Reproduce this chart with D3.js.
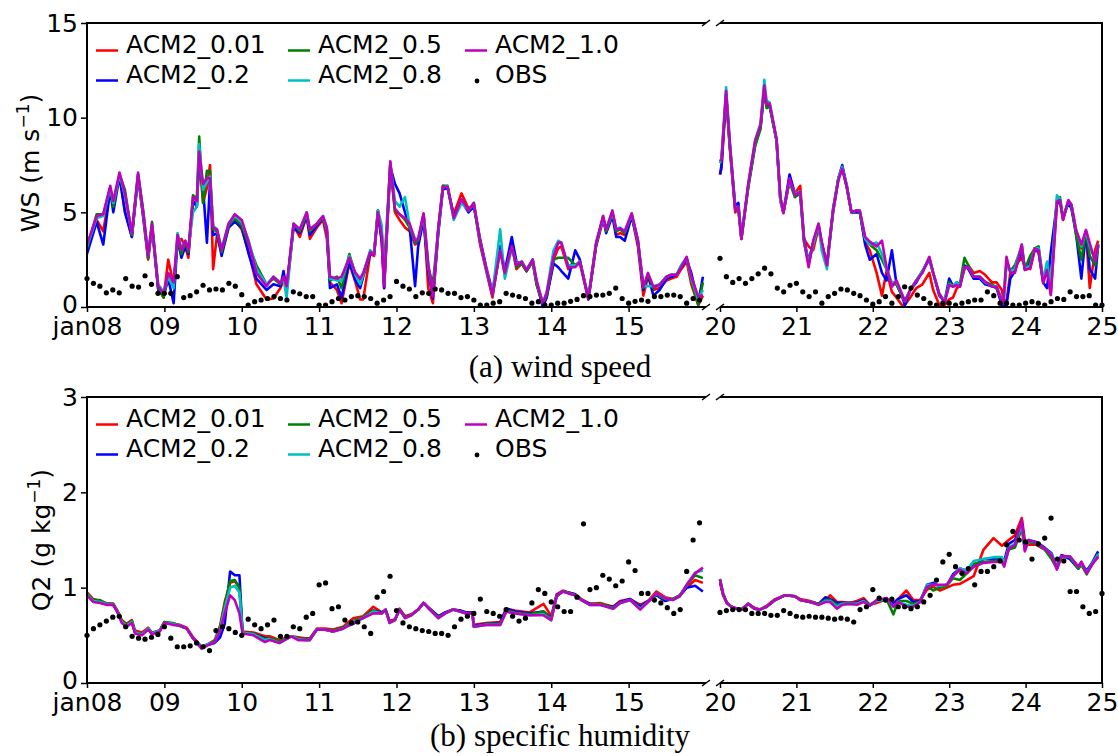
<!DOCTYPE html>
<html>
<head>
<meta charset="utf-8">
<script src="https://cdn.jsdelivr.net/npm/d3@7"></script>
<style>
  body { margin: 0; background: #fff; }
  svg { display: block; }
</style>
</head>
<body>
<div id="chart"></div>
<script>
// ---------- data ----------
const modelNames = ["ACM2_0.01", "ACM2_0.2", "ACM2_0.5", "ACM2_0.8", "ACM2_1.0"];
const modelColors = ["#ff0000", "#0000ff", "#008000", "#00bfbf", "#bf00bf"];

const leftTicks = [8, 9, 10, 11, 12, 13, 14, 15];
const leftTickLabels = ["jan08", "09", "10", "11", "12", "13", "14", "15"];
const rightTicks = [20, 21, 22, 23, 24, 25];
const rightTickLabels = ["20", "21", "22", "23", "24", "25"];

// (a) wind speed, jan 08-15 (day of month)
const wsTimeA = [8.00,8.125,8.21,8.30,8.34,8.42,8.49,8.58,8.66,8.73,
  8.79,8.84,8.92,8.99,9.05,9.12,9.17,9.22,9.27,9.31,
  9.37,9.42,9.45,9.50,9.55,9.59,9.63,9.68,9.74,9.83,
  9.91,10.00,10.09,10.19,10.32,10.41,10.50,10.54,10.58,10.67,
  10.75,10.84,10.88,10.97,11.05,11.10,11.14,11.23,11.29,11.39,
  11.47,11.53,11.57,11.66,11.71,11.76,11.81,11.84,11.92,11.98,
  12.04,12.11,12.17,12.24,12.28,12.35,12.41,12.47,12.54,12.60,
  12.66,12.74,12.84,12.93,13.00,13.08,13.16,13.24,13.34,13.40,
  13.49,13.55,13.62,13.68,13.76,13.81,13.89,13.94,14.03,14.09,
  14.13,14.22,14.31,14.37,14.48,14.58,14.67,14.71,14.79,14.84,
  14.89,14.95,15.04,15.12,15.19,15.25,15.32,15.40,15.49,15.55,
  15.62,15.68,15.75,15.81,15.90,15.96];
const wsA001 = [3.0,4.6,4.0,6.2,5.4,6.9,5.1,3.7,6.9,4.6,
  2.5,4.2,1.0,0.5,2.5,1.2,3.5,3.6,3.2,2.6,
  5.6,5.4,7.9,5.5,6.3,7.5,2.0,3.8,2.9,4.2,
  4.6,4.1,2.9,1.2,0.4,0.45,1.0,1.4,1.0,4.3,
  3.7,4.8,3.6,4.2,4.6,3.6,1.3,0.9,0.2,2.3,
  1.3,0.4,0.4,2.8,2.7,5.1,3.4,1.0,7.5,5.0,
  4.6,4.2,4.0,3.3,3.4,4.9,1.0,0.2,4.0,6.4,
  6.3,4.9,6.0,5.2,5.4,3.3,1.9,0.5,3.2,1.8,
  3.3,2.0,2.3,1.9,2.4,1.2,0.1,0.5,2.5,3.1,
  3.2,2.0,2.2,2.3,0.4,3.2,4.6,4.0,5.0,3.8,
  3.9,3.8,4.8,3.2,0.6,1.6,0.9,1.0,1.4,1.5,
  1.6,2.0,2.4,1.2,0.1,0.6];
const wsA02 = [2.8,4.5,3.3,6.2,5.0,6.9,5.0,3.7,6.9,4.7,
  2.6,4.3,0.9,0.6,1.5,0.2,3.6,2.6,3.2,2.8,
  5.6,5.3,7.8,6.3,3.4,6.6,3.8,3.9,2.7,4.2,
  4.5,4.2,2.8,1.5,0.9,1.2,1.1,1.9,0.9,4.2,
  3.9,4.8,3.8,4.3,4.7,4.0,1.0,1.2,0.5,2.4,
  1.4,1.0,1.6,2.8,2.8,4.9,3.5,1.0,7.4,6.5,
  6.0,5.0,4.2,1.1,3.2,4.6,1.9,0.45,3.9,6.2,
  6.3,4.8,5.6,5.0,5.3,3.6,2.1,0.8,3.2,1.9,
  3.7,2.4,2.3,1.9,2.5,1.3,0.0,0.5,2.3,2.1,
  1.9,1.5,3.0,2.5,0.4,3.3,4.7,3.9,4.8,3.7,
  3.7,3.5,4.8,3.4,0.9,1.7,0.6,0.9,1.5,1.6,
  1.7,2.1,2.5,1.8,0.2,1.6];
const wsA05 = [3.1,4.9,4.9,6.3,5.3,7.0,6.2,3.8,7.0,5.0,
  2.6,4.5,1.0,0.5,1.6,1.2,3.6,2.8,3.4,2.9,
  5.9,5.7,9.0,5.5,7.2,7.2,4.1,4.0,2.9,4.3,
  4.7,4.3,3.3,2.2,1.2,1.5,1.2,1.5,1.0,4.4,
  4.0,4.9,4.0,4.4,4.7,4.1,1.4,1.6,1.0,2.8,
  1.7,1.3,1.7,2.9,2.8,5.1,3.9,2.0,7.6,5.1,
  4.9,4.6,4.2,3.4,3.5,4.9,2.1,1.2,4.1,6.4,
  6.4,4.7,5.6,5.1,5.4,3.4,2.0,0.6,3.0,1.7,
  3.2,2.1,2.3,1.9,2.4,1.2,0.2,0.6,2.5,2.6,
  2.6,2.6,2.2,2.4,0.5,3.3,4.8,4.0,5.0,4.0,
  4.1,3.9,4.9,3.5,1.0,1.7,1.0,1.2,1.6,1.7,
  1.7,2.2,2.6,1.4,0.1,1.3];
const wsA08 = [3.2,4.7,4.8,6.3,5.5,7.0,5.9,3.9,7.0,4.8,
  2.7,4.3,1.2,0.8,1.6,1.0,3.9,3.1,3.5,3.1,
  5.0,5.3,8.6,6.2,6.6,6.9,4.3,4.1,3.1,4.4,
  4.8,4.5,3.5,2.0,1.2,1.6,1.3,1.5,0.5,4.4,
  4.1,5.0,4.1,4.4,4.8,4.1,1.5,1.4,1.4,2.7,
  1.7,1.2,1.7,3.0,2.8,5.1,4.3,1.2,7.6,5.6,
  5.3,5.8,4.3,3.6,3.6,4.9,2.2,0.6,4.1,6.3,
  6.4,4.6,5.5,5.1,5.5,3.5,2.0,0.7,4.1,1.5,
  3.1,2.3,2.4,2.0,2.5,1.4,0.2,0.8,3.0,3.5,
  3.4,2.2,2.2,2.4,0.5,3.4,4.7,4.1,5.0,4.1,
  4.2,4.0,4.9,3.5,1.1,1.1,1.1,1.2,1.6,1.7,
  1.7,2.2,2.6,1.5,0.4,0.9];
const wsA10 = [3.3,4.8,4.9,6.4,5.6,7.1,6.0,3.9,7.1,4.9,
  2.7,4.4,1.1,0.7,1.8,1.3,3.8,3.0,3.5,3.0,
  5.8,5.6,8.2,6.5,6.8,6.8,4.2,4.1,3.0,4.4,
  4.9,4.6,3.4,1.8,1.1,1.6,1.25,1.6,1.1,4.4,
  4.1,5.0,4.1,4.4,4.8,4.2,1.6,1.5,1.6,2.6,
  1.8,1.5,1.8,2.9,2.75,5.0,3.7,1.1,7.7,5.2,
  4.9,4.7,4.4,3.5,3.6,4.95,2.3,0.55,4.2,6.35,
  6.35,4.7,5.7,5.1,5.5,3.5,2.0,0.63,3.0,1.8,
  3.2,2.2,2.4,1.95,2.5,1.4,0.2,0.7,2.65,3.4,
  3.4,2.1,2.1,2.4,0.45,3.4,4.8,4.1,5.1,4.1,
  4.15,4.0,4.95,3.55,1.07,1.8,1.07,1.16,1.6,1.7,
  1.7,2.1,2.65,1.6,0.55,0.63];
// observations, every 2 h from jan 08 00h
const wsObsA = [1.5,1.25,1.1,0.75,0.9,0.75,1.5,1.1,1.05,1.65,
  1.2,0.72,0.72,0.72,1.6,0.5,0.6,0.8,1.15,0.9,
  0.95,0.9,1.25,1.1,0.65,0.1,0.28,0.37,0.45,0.55,
  0.45,0.37,0.8,0.7,0.55,0.55,0.1,0.1,0.28,0.45,
  0.37,0.55,0.6,0.55,0.45,0.2,0.37,0.55,1.35,1.1,
  0.95,0.55,0.75,0.72,0.95,0.9,0.72,0.72,0.5,0.55,
  0.37,0.1,0.1,0.2,0.28,0.72,0.63,0.55,0.45,0.2,
  0.28,0.12,0.1,0.2,0.2,0.3,0.4,0.6,0.55,0.63,
  0.63,0.72,1.0,0.45,0.2,0.3,0.37,0.3,0.55,0.55,
  0.63,0.63,0.55,0.2,0.45,0.37];

// (a) wind speed, jan 20-25
const wsTimeB = [20.00,20.02,20.08,20.13,20.20,20.24,20.28,20.37,20.46,20.53,
  20.58,20.61,20.65,20.74,20.79,20.83,20.91,20.98,21.05,21.10,
  21.16,21.22,21.29,21.33,21.40,21.48,21.55,21.60,21.66,21.72,
  21.79,21.83,21.90,21.96,22.05,22.12,22.18,22.25,22.31,22.38,
  22.42,22.49,22.57,22.65,22.74,22.79,22.87,22.94,23.00,23.05,
  23.10,23.14,23.20,23.25,23.32,23.40,23.47,23.56,23.62,23.69,
  23.71,23.75,23.80,23.86,23.95,23.99,24.06,24.12,24.17,24.23,
  24.28,24.33,24.41,24.45,24.49,24.56,24.60,24.66,24.73,24.79,
  24.84,24.91,24.95];
const wsB001 = [7.0,7.3,11.2,8.3,5.0,5.2,3.6,6.4,8.6,9.5,
  11.5,10.6,10.6,8.8,5.6,5.0,6.7,6.0,6.4,3.6,
  3.2,3.0,4.2,3.3,2.3,5.0,6.8,7.4,6.3,5.0,
  5.1,5.0,3.4,3.0,1.8,0.6,1.9,0.8,0.5,0.1,
  0.1,0.5,1.0,1.2,1.8,0.9,0.1,0.1,0.4,0.5,
  1.0,1.1,2.0,2.2,1.8,1.9,1.7,1.3,1.3,0.9,
  0.4,0.3,1.8,2.2,2.6,2.1,2.0,3.0,2.9,1.4,
  1.9,0.7,5.4,5.6,4.6,5.6,5.3,4.0,3.1,3.9,
  1.0,3.0,3.5];
const wsB02 = [7.0,7.5,11.2,8.5,5.3,5.5,3.7,6.4,8.6,9.5,
  11.6,10.6,10.7,8.8,5.7,5.0,7.0,6.0,6.0,3.6,
  2.4,3.4,4.3,3.4,2.2,5.2,6.8,7.5,6.4,5.0,
  5.0,5.0,3.3,2.5,2.8,1.8,1.4,3.0,1.2,0.6,
  0.1,0.9,1.3,1.9,2.5,1.8,0.6,0.3,1.5,1.1,
  1.3,1.1,2.2,2.0,1.5,1.5,1.2,1.1,1.0,0.1,
  0.1,0.1,1.5,1.9,3.0,2.0,2.4,3.1,2.9,1.3,
  1.0,2.9,5.5,5.6,4.7,5.5,5.2,3.9,1.5,4.0,
  2.0,1.5,3.3];
const wsB05 = [7.6,7.8,11.2,8.4,5.1,5.2,3.6,6.3,8.5,9.4,
  11.5,10.5,10.6,8.8,5.8,5.0,6.6,5.8,6.0,3.4,
  2.3,3.4,4.3,3.4,2.2,5.0,6.8,7.3,6.3,5.0,
  5.1,5.0,3.6,3.3,3.0,2.5,2.0,1.2,1.2,0.6,
  0.3,0.9,1.4,1.9,2.6,1.8,0.7,0.3,1.3,1.1,
  1.3,1.2,2.6,2.2,1.6,1.6,1.3,1.2,1.0,0.4,
  0.3,2.4,1.9,2.2,3.2,2.0,2.7,3.1,3.2,1.4,
  1.9,1.2,5.7,5.8,4.7,5.6,5.4,3.8,2.5,4.0,
  2.7,2.2,3.2];
const wsB08 = [7.6,7.9,11.6,8.6,5.2,5.3,3.7,6.5,8.8,9.7,
  12.0,10.9,10.8,8.8,5.6,5.0,6.7,6.0,6.1,3.5,
  2.3,3.3,4.4,3.0,2.0,5.1,6.8,7.4,6.4,5.0,
  5.1,5.1,3.6,3.3,3.4,2.8,2.0,1.3,1.3,0.7,
  0.3,0.9,1.4,1.9,2.6,1.8,0.7,0.3,1.2,1.1,
  1.3,1.1,2.1,2.1,1.6,1.6,1.3,1.1,1.1,0.3,
  0.2,2.2,1.9,2.0,3.3,2.0,2.2,3.1,3.1,1.4,
  2.4,1.0,5.9,5.7,4.7,5.6,5.4,4.1,3.2,4.0,
  3.2,2.5,3.3];
const wsB10 = [7.7,7.8,11.4,8.6,5.1,5.3,3.6,6.5,8.8,9.6,
  11.7,10.7,10.75,8.9,5.8,4.95,6.8,5.9,6.1,3.5,
  2.1,3.5,4.4,3.5,2.2,5.1,6.7,7.3,6.35,5.0,
  5.1,5.1,3.7,3.45,3.2,3.5,2.1,1.07,1.4,0.7,
  0.3,0.9,1.4,1.8,2.65,1.8,0.7,0.2,1.16,1.07,
  1.16,1.07,2.1,2.1,1.6,1.6,1.34,1.07,1.07,0.3,
  0.2,2.65,1.8,1.8,3.3,1.95,2.05,3.1,3.0,1.25,
  1.95,0.63,5.56,5.65,4.6,5.65,5.4,4.07,3.3,4.07,
  3.36,2.4,3.3];
// observations, every 2 h from jan 20 00h
const wsObsB = [2.57,1.6,1.3,1.5,1.25,1.5,1.75,2.05,1.75,1.0,
  0.8,1.15,1.25,0.8,0.55,0.8,0.2,0.55,0.72,0.95,
  0.9,0.72,0.6,0.37,0.15,0.28,0.55,0.2,0.55,1.07,
  1.0,0.63,0.45,0.2,0.1,0.2,0.2,0.1,0.2,0.28,
  0.37,0.37,0.8,0.6,0.2,0.2,0.1,0.1,0.2,0.28,
  0.2,0.1,0.28,0.45,0.4,0.8,0.55,0.55,0.6,0.1,
  0.1];

// (b) specific humidity, jan 08-15
const q2TimeA = [8.00,8.08,8.17,8.25,8.34,8.40,8.45,8.51,8.58,8.62,
  8.71,8.79,8.84,8.94,9.00,9.11,9.20,9.29,9.37,9.48,
  9.57,9.65,9.72,9.78,9.85,9.91,9.97,10.01,10.15,10.30,
  10.36,10.49,10.64,10.73,10.82,10.88,10.97,11.08,11.18,11.31,
  11.44,11.57,11.70,11.81,11.86,11.91,11.98,12.04,12.11,12.19,
  12.28,12.35,12.43,12.54,12.63,12.73,12.82,12.90,12.98,13.00,
  13.16,13.34,13.42,13.53,13.72,13.90,14.00,14.07,14.15,14.22,
  14.31,14.39,14.50,14.63,14.80,14.89,15.02,15.15,15.25,15.36,
  15.47,15.57,15.66,15.75,15.86,15.96];
const q2A001 = [0.95,0.88,0.86,0.84,0.83,0.75,0.66,0.62,0.66,0.55,
  0.53,0.58,0.53,0.55,0.64,0.62,0.61,0.58,0.48,0.38,
  0.41,0.45,0.60,0.85,1.05,1.07,1.00,0.54,0.53,0.49,
  0.49,0.45,0.49,0.48,0.47,0.47,0.57,0.57,0.56,0.59,
  0.68,0.70,0.80,0.74,0.76,0.65,0.67,0.78,0.70,0.72,
  0.77,0.84,0.78,0.70,0.74,0.77,0.76,0.74,0.74,0.61,
  0.63,0.64,0.78,0.76,0.74,0.83,0.70,0.93,0.97,0.95,
  0.93,0.88,0.83,0.84,0.80,0.86,0.88,0.82,0.86,0.96,
  0.90,0.88,0.92,1.00,1.08,1.05];
const q2A02 = [0.93,0.86,0.85,0.83,0.82,0.74,0.64,0.60,0.64,0.53,
  0.51,0.57,0.52,0.55,0.63,0.62,0.60,0.57,0.47,0.38,
  0.40,0.42,0.48,0.62,1.17,1.13,1.13,0.53,0.52,0.47,
  0.47,0.43,0.49,0.46,0.46,0.46,0.56,0.56,0.54,0.58,
  0.62,0.69,0.76,0.74,0.77,0.64,0.66,0.77,0.69,0.71,
  0.77,0.84,0.78,0.70,0.74,0.77,0.76,0.74,0.74,0.60,
  0.62,0.63,0.78,0.75,0.73,0.75,0.68,0.92,0.96,0.95,
  0.93,0.87,0.83,0.82,0.80,0.85,0.88,0.80,0.86,0.92,
  0.86,0.88,0.91,1.00,1.02,0.96];
const q2A05 = [0.94,0.87,0.87,0.83,0.83,0.74,0.65,0.61,0.65,0.54,
  0.51,0.57,0.52,0.55,0.64,0.63,0.60,0.57,0.47,0.37,
  0.41,0.44,0.58,0.82,1.07,1.08,1.00,0.53,0.52,0.46,
  0.47,0.44,0.49,0.47,0.46,0.46,0.56,0.56,0.55,0.58,
  0.65,0.69,0.76,0.73,0.77,0.64,0.66,0.77,0.69,0.71,
  0.77,0.84,0.77,0.69,0.73,0.77,0.75,0.73,0.73,0.59,
  0.62,0.62,0.76,0.74,0.72,0.75,0.67,0.91,0.96,0.95,
  0.92,0.87,0.82,0.83,0.79,0.84,0.87,0.78,0.85,0.93,
  0.88,0.88,0.92,1.02,1.13,1.10];
const q2A08 = [0.93,0.86,0.85,0.83,0.82,0.74,0.64,0.60,0.64,0.53,
  0.51,0.57,0.52,0.55,0.63,0.62,0.60,0.57,0.47,0.37,
  0.41,0.43,0.56,0.78,1.00,1.02,0.95,0.53,0.51,0.45,
  0.46,0.42,0.49,0.46,0.45,0.45,0.56,0.56,0.54,0.57,
  0.64,0.68,0.75,0.73,0.77,0.63,0.66,0.77,0.68,0.71,
  0.77,0.84,0.77,0.68,0.73,0.77,0.75,0.73,0.73,0.59,
  0.61,0.61,0.75,0.73,0.71,0.72,0.66,0.91,0.96,0.94,
  0.92,0.87,0.82,0.82,0.78,0.84,0.87,0.78,0.85,0.94,
  0.89,0.87,0.91,1.03,1.16,1.18];
const q2A10 = [0.92,0.85,0.84,0.82,0.82,0.73,0.63,0.59,0.63,0.52,
  0.50,0.56,0.51,0.54,0.63,0.61,0.60,0.57,0.47,0.36,
  0.40,0.43,0.54,0.73,0.92,0.87,0.73,0.52,0.50,0.43,
  0.45,0.42,0.49,0.45,0.45,0.45,0.56,0.56,0.54,0.57,
  0.63,0.68,0.73,0.73,0.77,0.63,0.66,0.77,0.68,0.71,
  0.77,0.84,0.77,0.68,0.73,0.77,0.75,0.73,0.73,0.59,
  0.61,0.61,0.75,0.73,0.71,0.71,0.66,0.91,0.96,0.94,
  0.92,0.87,0.82,0.82,0.78,0.84,0.87,0.77,0.85,0.94,
  0.89,0.87,0.91,1.03,1.15,1.21];
const q2ObsA = [0.50,0.57,0.61,0.65,0.69,0.70,0.59,0.49,0.47,0.46,
  0.48,0.51,0.59,0.47,0.38,0.38,0.39,0.42,0.38,0.34,
  0.55,0.59,0.57,0.53,0.50,0.67,0.61,0.57,0.61,0.66,
  0.49,0.49,0.59,0.57,0.69,0.73,1.03,1.05,0.78,0.80,
  0.66,0.63,0.64,0.59,0.52,0.90,0.96,1.12,0.76,0.63,
  0.59,0.57,0.55,0.54,0.52,0.52,0.50,0.59,0.67,0.70,
  0.73,0.88,0.75,0.73,0.70,0.77,0.70,0.65,0.68,0.84,
  0.98,0.94,0.85,0.80,0.75,0.75,0.90,1.67,0.98,1.00,
  1.13,1.09,1.02,1.07,1.27,1.18,0.94,0.94,0.87,0.84,
  0.79,0.73,0.77,1.17,1.50,1.68];

// (b) specific humidity, jan 20-25
const q2TimeB = [20.00,20.04,20.09,20.15,20.22,20.28,20.37,20.45,20.52,20.61,
  20.72,20.85,20.98,21.05,21.18,21.29,21.38,21.44,21.53,21.60,
  21.70,21.79,21.88,21.96,22.05,22.18,22.27,22.33,22.44,22.53,
  22.62,22.71,22.79,22.88,22.97,23.05,23.14,23.23,23.32,23.45,
  23.58,23.69,23.72,23.78,23.86,23.95,23.99,24.04,24.14,
  24.25,24.34,24.41,24.47,24.58,24.69,24.73,
  24.80,24.87,24.95];
const q2B001 = [1.05,0.92,0.84,0.80,0.78,0.77,0.83,0.79,0.77,0.81,
  0.88,0.92,0.91,0.88,0.86,0.83,0.86,0.92,0.85,0.85,
  0.84,0.86,0.89,0.82,0.84,0.88,0.84,0.88,0.97,0.87,
  0.87,0.98,1.01,0.97,1.00,1.03,1.04,1.08,1.12,1.40,
  1.52,1.44,1.46,1.50,1.55,1.73,1.50,1.45,1.45,
  1.40,1.33,1.22,1.34,1.32,1.22,1.27,
  1.16,1.25,1.32];
const q2B02 = [1.08,0.93,0.84,0.80,0.78,0.77,0.83,0.78,0.77,0.80,
  0.87,0.92,0.91,0.87,0.85,0.83,0.90,0.88,0.84,0.84,
  0.84,0.84,0.87,0.82,0.86,0.89,0.83,0.88,0.92,0.85,
  0.86,1.03,1.05,1.01,1.03,1.14,1.20,1.18,1.22,1.30,
  1.30,1.30,1.28,1.46,1.50,1.68,1.44,1.50,1.48,
  1.42,1.36,1.21,1.34,1.30,1.20,1.25,
  1.18,1.26,1.38];
const q2B05 = [1.08,0.93,0.84,0.80,0.78,0.77,0.83,0.78,0.77,0.80,
  0.87,0.92,0.91,0.87,0.85,0.83,0.87,0.87,0.82,0.83,
  0.84,0.83,0.86,0.82,0.86,0.88,0.72,0.86,0.86,0.83,
  0.85,1.02,0.97,1.00,1.02,1.10,1.08,1.15,1.25,1.27,
  1.28,1.29,1.25,1.40,1.42,1.62,1.40,1.48,1.46,
  1.40,1.30,1.20,1.33,1.32,1.20,1.24,
  1.14,1.25,1.35];
const q2B08 = [1.09,0.94,0.84,0.80,0.78,0.77,0.83,0.78,0.77,0.80,
  0.87,0.92,0.91,0.87,0.85,0.82,0.86,0.86,0.80,0.83,
  0.83,0.83,0.86,0.81,0.86,0.88,0.80,0.85,0.82,0.81,
  0.85,1.03,1.03,1.02,1.03,1.12,1.20,1.18,1.28,1.30,
  1.32,1.32,1.25,1.42,1.46,1.66,1.40,1.50,1.47,
  1.41,1.35,1.20,1.33,1.33,1.22,1.26,
  1.16,1.25,1.35];
const q2B10 = [1.09,0.94,0.84,0.80,0.78,0.77,0.83,0.78,0.77,0.80,
  0.87,0.92,0.91,0.87,0.85,0.82,0.85,0.85,0.78,0.82,
  0.83,0.82,0.85,0.81,0.87,0.89,0.80,0.85,0.80,0.80,
  0.85,1.01,1.03,1.03,1.03,1.12,1.19,1.15,1.22,1.26,
  1.27,1.27,1.22,1.41,1.45,1.71,1.38,1.50,1.47,
  1.41,1.34,1.19,1.33,1.33,1.22,1.27,
  1.15,1.24,1.33];
const q2ObsB = [0.74,0.76,0.77,0.77,0.77,0.73,0.73,0.73,0.71,0.71,
  0.76,0.73,0.70,0.69,0.70,0.69,0.69,0.68,0.67,0.68,
  0.67,0.64,0.77,0.80,0.98,0.89,0.87,0.88,0.80,0.80,
  0.78,0.80,0.85,0.92,1.08,1.27,1.35,1.22,1.15,1.20,
  1.03,1.17,1.17,1.22,1.28,1.45,1.59,1.50,1.48,1.30,
  1.46,1.52,1.73,1.30,1.28,0.96,0.96,0.80,0.73,0.75,
  0.94];

// ---------- layout ----------
const width = 1118, height = 756;
const tickFont = "'DejaVu Sans', sans-serif";
const captionFont = "'Liberation Serif', 'Times New Roman', serif";

const xLeft = d3.scaleLinear().domain([8, 16]).range([87, 706]);
const xRight = d3.scaleLinear().domain([20, 25]).range([720, 1102]);

const svg = d3.select("#chart").append("svg")
    .attr("width", width)
    .attr("height", height)
    .style("background", "#fff");

function obsTimes(start, n) {
    return d3.range(n).map(k => start + k / 12);
}

function drawPanel(p) {
    const y = d3.scaleLinear().domain([0, p.yMax]).range([p.bottom, p.top]);
    const g = svg.append("g");

    // data
    p.segments.forEach(seg => {
        const x = seg.x;
        seg.series.forEach((vals, si) => {
            const pts = seg.t.map((t, i) => [x(t), y(vals[i])]);
            g.append("path")
                .attr("d", d3.line()(pts))
                .attr("fill", "none")
                .attr("stroke", modelColors[si])
                .attr("stroke-width", 2.6)
                .attr("stroke-linejoin", "round");
        });
        const ot = obsTimes(seg.obsStart, seg.obs.length);
        g.append("g").selectAll("circle")
            .data(seg.obs)
            .enter()
            .append("circle")
            .attr("cx", (d, i) => x(ot[i]))
            .attr("cy", d => y(d))
            .attr("r", 2.6)
            .attr("fill", "#000");
    });

    // spines
    const sp = g.append("g").attr("stroke", "#000").attr("stroke-width", 2).attr("fill", "none");
    sp.append("path").attr("d", `M706,${p.top}H87V${p.bottom}H706`);
    sp.append("path").attr("d", `M720,${p.top}H1102V${p.bottom}H720`);
    // break marks
    const brk = g.append("g").attr("stroke", "#000").attr("stroke-width", 1.5);
    [706, 720].forEach(bx => {
        [p.top, p.bottom].forEach(by => {
            brk.append("line")
                .attr("x1", bx - 4).attr("y1", by + 3)
                .attr("x2", bx + 4).attr("y2", by - 3);
        });
    });

    // axes
    const yAxis = g.append("g")
        .attr("transform", "translate(87,0)")
        .call(d3.axisLeft(y).tickValues(p.yTicks).tickFormat(d3.format("d")).tickSize(6).tickPadding(3));
    const xAxisL = g.append("g")
        .attr("transform", `translate(0,${p.bottom})`)
        .call(d3.axisBottom(xLeft).tickValues(leftTicks)
            .tickFormat((d, i) => leftTickLabels[i]).tickSize(5).tickPadding(5));
    const xAxisR = g.append("g")
        .attr("transform", `translate(0,${p.bottom})`)
        .call(d3.axisBottom(xRight).tickValues(rightTicks)
            .tickFormat((d, i) => rightTickLabels[i]).tickSize(5).tickPadding(5));
    [yAxis, xAxisL, xAxisR].forEach(a => {
        a.select(".domain").remove();
        a.attr("font-family", tickFont).attr("font-size", 25);
        a.selectAll("line").attr("stroke", "#000").attr("stroke-width", 1.5);
        a.selectAll("text").attr("fill", "#000");
    });
    // lift the "0" label a touch so it clears "jan08"
    yAxis.selectAll(".tick text").filter(d => d === 0).attr("dy", "0.2em");

    // y label
    const lab = g.append("text")
        .attr("transform", `translate(${p.labelX},${p.labelY}) rotate(-90)`)
        .attr("text-anchor", "middle")
        .attr("font-family", tickFont)
        .attr("font-size", 25)
        .attr("fill", "#000");
    lab.append("tspan").text(p.label);
    lab.append("tspan").attr("font-size", 17).attr("dy", -10).text("\u22121");
    lab.append("tspan").attr("dy", 10).text(")");

    // legend
    const colX = [96, 288, 465];
    const leg = g.append("g").attr("font-family", tickFont).attr("font-size", 25).attr("fill", "#000");
    const entries = modelNames.map((n, i) => ({ name: n, color: modelColors[i] }))
        .concat([{ name: "OBS", obs: true }]);
    entries.forEach((e, i) => {
        const cx = colX[Math.floor(i / 2)];
        const base = p.top + 30 + (i % 2) * 30;
        if (e.obs) {
            leg.append("circle").attr("cx", cx + 12).attr("cy", base - 2).attr("r", 2.4).attr("fill", "#000");
        } else {
            leg.append("line")
                .attr("x1", cx).attr("x2", cx + 22)
                .attr("y1", base - 2.5).attr("y2", base - 2.5)
                .attr("stroke", e.color).attr("stroke-width", 2.5);
        }
        leg.append("text").attr("x", cx + 30).attr("y", base).text(e.name);
    });

    // caption
    svg.append("text")
        .attr("x", 560).attr("y", p.captionY)
        .attr("text-anchor", "middle")
        .attr("font-family", captionFont)
        .attr("font-size", 31)
        .attr("fill", "#000")
        .text(p.caption);
}

drawPanel({
    top: 23, bottom: 307, yMax: 15, yTicks: [0, 5, 10, 15],
    label: "WS (m s", labelX: 39, labelY: 163,
    caption: "(a) wind speed", captionY: 377,
    segments: [
        { x: xLeft, t: wsTimeA, series: [wsA001, wsA02, wsA05, wsA08, wsA10], obs: wsObsA, obsStart: 8 },
        { x: xRight, t: wsTimeB, series: [wsB001, wsB02, wsB05, wsB08, wsB10], obs: wsObsB, obsStart: 20 }
    ]
});

drawPanel({
    top: 397, bottom: 683, yMax: 3, yTicks: [0, 1, 2, 3],
    label: "Q2 (g kg", labelX: 50, labelY: 540,
    caption: "(b) specific humidity", captionY: 746,
    segments: [
        { x: xLeft, t: q2TimeA, series: [q2A001, q2A02, q2A05, q2A08, q2A10], obs: q2ObsA, obsStart: 8 },
        { x: xRight, t: q2TimeB, series: [q2B001, q2B02, q2B05, q2B08, q2B10], obs: q2ObsB, obsStart: 20 }
    ]
});
</script>
</body>
</html>
